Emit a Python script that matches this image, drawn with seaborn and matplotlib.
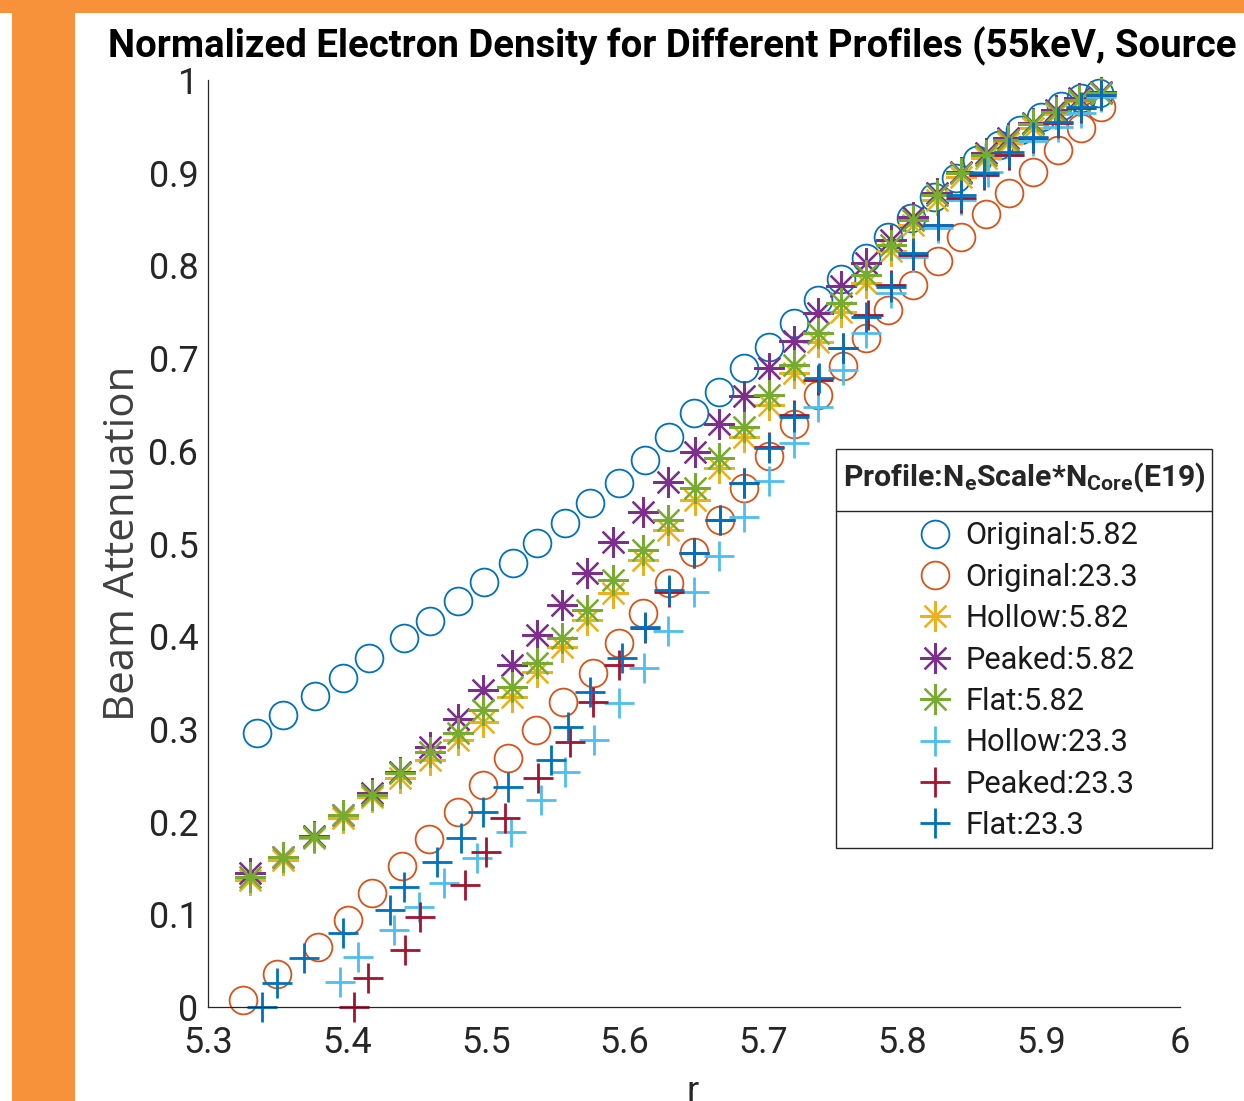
import matplotlib
matplotlib.use("Agg")
import matplotlib.pyplot as plt
import seaborn as sns
from matplotlib.patches import Rectangle
from matplotlib.lines import Line2D

# ---------------- data ----------------
x_orig_582 = [5.335, 5.354, 5.377, 5.397, 5.416, 5.441, 5.460, 5.480, 5.499, 5.520, 5.537, 5.557,
              5.575, 5.596, 5.615, 5.632, 5.650, 5.668, 5.686, 5.704, 5.722, 5.739, 5.756, 5.774,
              5.790, 5.806, 5.823, 5.839, 5.854, 5.870, 5.885, 5.900, 5.914, 5.929, 5.942]
y_orig_582 = [0.296, 0.315, 0.336, 0.355, 0.377, 0.398, 0.416, 0.438, 0.459, 0.479, 0.501, 0.522,
              0.544, 0.565, 0.590, 0.615, 0.641, 0.663, 0.689, 0.712, 0.738, 0.763, 0.785, 0.808,
              0.831, 0.851, 0.874, 0.894, 0.914, 0.930, 0.946, 0.960, 0.972, 0.981, 0.986]

x_orig_233 = [5.325, 5.350, 5.379, 5.401, 5.418, 5.440, 5.459, 5.480, 5.498, 5.516, 5.536, 5.556,
              5.577, 5.596, 5.613, 5.632, 5.650, 5.669, 5.686, 5.704, 5.722, 5.739, 5.757, 5.774,
              5.790, 5.808, 5.826, 5.842, 5.860, 5.877, 5.894, 5.912, 5.929, 5.943]
y_orig_233 = [0.008, 0.036, 0.065, 0.094, 0.123, 0.152, 0.181, 0.210, 0.240, 0.269, 0.299, 0.329,
              0.360, 0.393, 0.425, 0.457, 0.491, 0.525, 0.560, 0.594, 0.629, 0.660, 0.692, 0.722,
              0.752, 0.779, 0.805, 0.831, 0.855, 0.878, 0.901, 0.925, 0.948, 0.971]

x_582 = [5.330, 5.354, 5.376, 5.397, 5.418, 5.438, 5.460, 5.480, 5.498, 5.519, 5.537, 5.555,
         5.573, 5.592, 5.613, 5.631, 5.651, 5.668, 5.686, 5.704, 5.722, 5.739, 5.756, 5.774,
         5.792, 5.808, 5.825, 5.842, 5.860, 5.876, 5.894, 5.911, 5.927, 5.943]
y_hollow_582 = [0.137, 0.159, 0.182, 0.204, 0.227, 0.247, 0.266, 0.288, 0.307, 0.334, 0.361, 0.388,
                0.418, 0.447, 0.482, 0.515, 0.547, 0.581, 0.615, 0.649, 0.684, 0.717, 0.750, 0.781,
                0.815, 0.844, 0.871, 0.895, 0.916, 0.932, 0.948, 0.963, 0.977, 0.986]
y_peaked_582 = [0.145, 0.162, 0.185, 0.207, 0.231, 0.254, 0.281, 0.311, 0.342, 0.369, 0.401, 0.434,
                0.468, 0.502, 0.534, 0.566, 0.599, 0.629, 0.659, 0.689, 0.718, 0.749, 0.778, 0.803,
                0.827, 0.852, 0.878, 0.901, 0.921, 0.937, 0.954, 0.968, 0.981, 0.987]
y_flat_582 = [0.140, 0.162, 0.183, 0.207, 0.229, 0.252, 0.275, 0.296, 0.320, 0.345, 0.371, 0.398,
              0.428, 0.461, 0.493, 0.525, 0.560, 0.592, 0.626, 0.660, 0.693, 0.727, 0.759, 0.790,
              0.822, 0.849, 0.876, 0.900, 0.919, 0.935, 0.952, 0.966, 0.978, 0.986]

x_hollow_233 = [5.395, 5.408, 5.434, 5.452, 5.470, 5.494, 5.518, 5.540, 5.557, 5.578, 5.596, 5.614,
                5.631, 5.650, 5.668, 5.686, 5.704, 5.722, 5.739, 5.757, 5.774, 5.792, 5.808, 5.826,
                5.842, 5.862, 5.877, 5.894, 5.912, 5.929, 5.943]
y_hollow_233 = [0.027, 0.054, 0.083, 0.108, 0.134, 0.161, 0.189, 0.223, 0.254, 0.288, 0.328, 0.366,
                0.406, 0.448, 0.487, 0.529, 0.567, 0.608, 0.647, 0.687, 0.727, 0.770, 0.809, 0.840,
                0.871, 0.901, 0.919, 0.934, 0.949, 0.964, 0.982]

x_peaked_233 = [5.405, 5.415, 5.442, 5.453, 5.485, 5.500, 5.514, 5.538, 5.561, 5.577, 5.596, 5.615,
                5.632, 5.650, 5.669, 5.686, 5.704, 5.722, 5.739, 5.757, 5.775, 5.792, 5.808, 5.826,
                5.842, 5.859, 5.877, 5.894, 5.912, 5.929, 5.943]
y_peaked_233 = [0.000, 0.031, 0.062, 0.097, 0.132, 0.167, 0.204, 0.247, 0.286, 0.329, 0.369, 0.409,
                0.448, 0.490, 0.525, 0.565, 0.604, 0.639, 0.676, 0.711, 0.747, 0.779, 0.811, 0.844,
                0.873, 0.898, 0.919, 0.937, 0.954, 0.970, 0.984]

x_flat_233 = [5.339, 5.350, 5.369, 5.397, 5.431, 5.441, 5.465, 5.482, 5.498, 5.516, 5.547, 5.559,
              5.575, 5.598, 5.615, 5.632, 5.650, 5.669, 5.686, 5.704, 5.722, 5.740, 5.757, 5.774,
              5.792, 5.808, 5.826, 5.842, 5.859, 5.877, 5.894, 5.912, 5.929, 5.943]
y_flat_233 = [0.000, 0.026, 0.053, 0.080, 0.105, 0.129, 0.156, 0.182, 0.210, 0.237, 0.266, 0.302,
              0.340, 0.377, 0.410, 0.450, 0.490, 0.525, 0.565, 0.603, 0.637, 0.679, 0.711, 0.744,
              0.777, 0.813, 0.844, 0.876, 0.900, 0.922, 0.939, 0.955, 0.971, 0.984]

series_labels = ["Original:5.82", "Original:23.3", "Hollow:5.82", "Peaked:5.82",
                 "Flat:5.82", "Hollow:23.3", "Peaked:23.3", "Flat:23.3"]
x_ticks = [5.3, 5.4, 5.5, 5.6, 5.7, 5.8, 5.9, 6.0]
x_ticklabels = ["5.3", "5.4", "5.5", "5.6", "5.7", "5.8", "5.9", "6"]
y_ticks = [0, 0.1, 0.2, 0.3, 0.4, 0.5, 0.6, 0.7, 0.8, 0.9, 1.0]
y_ticklabels = ["0", "0.1", "0.2", "0.3", "0.4", "0.5", "0.6", "0.7", "0.8", "0.9", "1"]
title_text = "Normalized Electron Density for Different Profiles (55keV, Source"
legend_title = r"Profile:N$_{\mathbf{e}}$Scale*N$_{\mathbf{Core}}$(E19)"

# ---------------- styling ----------------
sns.set_theme(style="white")
FAM = ['Roboto', 'DejaVu Sans']
plt.rcParams['font.family'] = FAM
plt.rcParams['mathtext.fontset'] = 'custom'
plt.rcParams['mathtext.rm'] = 'Roboto'
plt.rcParams['mathtext.bf'] = 'Roboto:bold'
plt.rcParams['mathtext.it'] = 'Roboto:italic'

W, H = 1244, 1101
fig = plt.figure(figsize=(W / 100, H / 100), dpi=100)
fig.patch.set_facecolor('white')
renderer = fig.canvas.get_renderer()


def measure(s, size, **kw):
    t = fig.text(0, 0, s, fontsize=size, **kw)
    bb = t.get_window_extent(renderer)
    t.remove()
    return bb.width, bb.height


def fit_size(s, target_w, base=20, **kw):
    w, _ = measure(s, base, **kw)
    return base * target_w / w


orange = '#F7923A'
fig.add_artist(Rectangle((0, 1 - 13 / H), 1, 13 / H, transform=fig.transFigure,
                         facecolor=orange, edgecolor='none', zorder=0))
fig.add_artist(Rectangle((12 / W, 0), 63 / W, 1 - 13 / H, transform=fig.transFigure,
                         facecolor=orange, edgecolor='none', zorder=0))

ax = fig.add_axes([208 / W, 1 - 1007 / H, 972 / W, 927 / H])
ax.set_facecolor('none')

blue, orng, yel, pur, grn, lblue, dred = ('#0072BD', '#D95319', '#EDB120', '#7E2F8E',
                                          '#77AC30', '#4DBEEE', '#A2142F')
ast = (8, 2, 0)
series = [
    (x_orig_582, y_orig_582, blue, 'o', 20, 1.3),
    (x_orig_233, y_orig_233, orng, 'o', 20, 1.3),
    (x_582, y_hollow_582, yel, ast, 22, 1.6),
    (x_582, y_peaked_582, pur, ast, 22, 1.6),
    (x_582, y_flat_582, grn, ast, 22, 1.6),
    (x_hollow_233, y_hollow_233, lblue, '+', 21, 2.0),
    (x_peaked_233, y_peaked_233, dred, '+', 21, 2.0),
    (x_flat_233, y_flat_233, blue, '+', 21, 2.0),
]

handles = []
for (xs, ys, c, m, ms, mew), lab in zip(series, series_labels):
    sns.lineplot(x=xs, y=ys, ax=ax, color=c, marker=m, markersize=ms, linestyle='',
                 markerfacecolor='none', markeredgecolor=c, markeredgewidth=mew,
                 estimator=None, sort=False, errorbar=None, clip_on=False)
    handles.append(Line2D([], [], linestyle='', marker=m, markersize=ms,
                          markerfacecolor='none', markeredgecolor=c, markeredgewidth=mew))

ax.set_xlim(5.3, 6.0)
ax.set_ylim(0, 1)
ax.set_xticks(x_ticks)
ax.set_xticklabels(x_ticklabels)
ax.set_yticks(y_ticks)
ax.set_yticklabels(y_ticklabels)

# tick label size fitted to the reference's label width ("0.9" ~ 50 px)
tick_fs = fit_size("0.9", 50)
_, tick_h = measure("5.3", tick_fs)
x_pad_pt = max(1.0, (1043 - 1007 - tick_h / 2) * 0.72)
ax.tick_params(axis='both', direction='in', length=7, width=0.9, color='#262626',
               labelsize=tick_fs, labelcolor='#262626')
ax.tick_params(axis='x', pad=x_pad_pt)
ax.tick_params(axis='y', pad=7)
for s in ['top', 'right']:
    ax.spines[s].set_visible(False)
for s in ['left', 'bottom']:
    ax.spines[s].set_color('#262626')
    ax.spines[s].set_linewidth(0.9)

ylab_fam = ['Open Sans', 'DejaVu Sans']
ylab_fs = fit_size("Beam Attenuation", 355, fontfamily=ylab_fam)
ax.set_ylabel("Beam Attenuation", fontfamily=ylab_fam, fontsize=ylab_fs, color='#404040')
ax.yaxis.set_label_coords(-0.066, 0.5)
ax.set_xlabel("r", fontsize=tick_fs, color='#262626')
ax.xaxis.set_label_coords(0.499, -0.072)

title_fs = fit_size(title_text, 1130, fontweight='bold')
fig.text(108 / W, 1 - 46 / H, title_text, fontsize=title_fs, fontweight='bold', ha='left',
         va='center', color='black')

# legend: frame, title, separator, entries
fig.add_artist(Rectangle((836 / W, 1 - 848 / H), 376 / W, 399 / H, transform=fig.transFigure,
                         facecolor='white', edgecolor='#262626', linewidth=1.0, zorder=5))
fig.add_artist(Line2D([836 / W, 1212 / W], [1 - 511 / H, 1 - 511 / H], transform=fig.transFigure,
                      color='#262626', linewidth=1.0, zorder=6))
lt_fs = fit_size(legend_title, 362, fontweight='bold')
fig.text(1024 / W, 1 - 478 / H, legend_title, fontsize=lt_fs, fontweight='bold',
         ha='center', va='center', zorder=7)

leg_fs = fit_size("Original:5.82", 173)
_, row_h = measure("Original:5.82", leg_fs)
fs_px = leg_fs * 100 / 72
pitch = 41.4
labelspacing = max(0.0, (pitch - row_h) / fs_px)
hl = 1.0
handle_left = 935 - hl * fs_px / 2
htp = (965 - handle_left - hl * fs_px) / fs_px
leg = fig.legend(handles, series_labels, loc='upper left',
                 bbox_to_anchor=(handle_left / W, 1 - (536 - row_h / 2) / H),
                 bbox_transform=fig.transFigure, borderaxespad=0, borderpad=0,
                 frameon=False, fontsize=leg_fs, handlelength=hl, handletextpad=htp,
                 labelspacing=labelspacing)
leg.set_zorder(8)
for t in leg.get_texts():
    t.set_color('#1a1a1a')

fig.savefig("out.png", dpi=100)
